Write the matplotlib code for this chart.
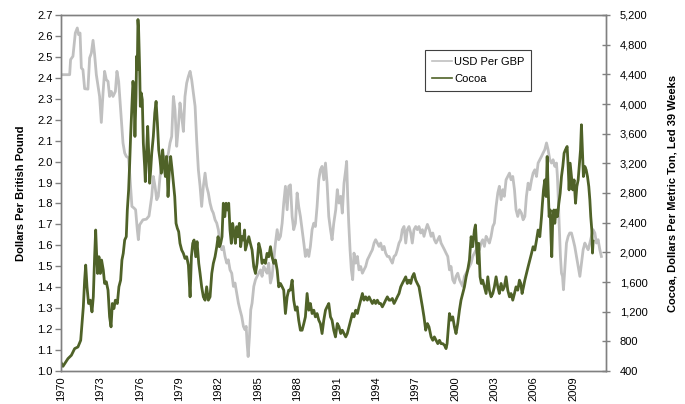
import matplotlib
matplotlib.use("Agg")
import matplotlib.pyplot as plt
from matplotlib.ticker import FuncFormatter, MultipleLocator

plt.rcParams['font.family'] = ['Liberation Sans', 'DejaVu Sans']

# USD per GBP
gbp_years = [1970.02, 1970.66, 1970.73, 1970.91, 1971.09, 1971.24, 1971.34, 1971.45, 1971.55, 1971.67,
             1971.80, 1972.05, 1972.18, 1972.31, 1972.44, 1972.56, 1972.69, 1972.94, 1973.07, 1973.20,
             1973.32, 1973.45, 1973.58, 1973.70, 1973.83, 1973.96, 1974.14, 1974.26, 1974.39, 1974.47,
             1974.59, 1974.72, 1974.85, 1974.97, 1975.15, 1975.40, 1975.56, 1975.68, 1975.81, 1975.89,
             1975.99, 1976.24, 1976.50, 1976.70,
             1976.91, 1977.03, 1977.16, 1977.29, 1977.41, 1977.54, 1977.67, 1977.80, 1977.92, 1978.05,
             1978.18, 1978.30, 1978.43, 1978.56, 1978.68, 1978.81, 1978.94, 1979.06, 1979.19, 1979.32,
             1979.44, 1979.57, 1979.70, 1979.83, 1979.95, 1980.08, 1980.21, 1980.33, 1980.46, 1980.59,
             1980.71, 1980.84, 1980.97, 1981.09, 1981.22, 1981.35, 1981.48, 1981.60, 1981.73, 1981.86,
             1981.98, 1982.11, 1982.24, 1982.36, 1982.49, 1982.62, 1982.74, 1982.87, 1983.00, 1983.13,
             1983.25, 1983.38, 1983.51, 1983.63, 1983.76, 1983.89, 1984.01,
             1984.10, 1984.17, 1984.25, 1984.35, 1984.45, 1984.55, 1984.68, 1984.81, 1984.93, 1985.06,
             1985.19, 1985.31, 1985.44, 1985.57, 1985.69, 1985.82, 1985.95, 1986.07, 1986.20, 1986.33,
             1986.46, 1986.58, 1986.71, 1986.84, 1986.96, 1987.09, 1987.22, 1987.34, 1987.47, 1987.60,
             1987.72, 1987.85, 1987.98, 1988.10, 1988.23, 1988.36, 1988.49, 1988.61, 1988.74, 1988.87,
             1988.99, 1989.12, 1989.25, 1989.37, 1989.50, 1989.63, 1989.75, 1989.88, 1990.01, 1990.14,
             1990.26, 1990.39, 1990.52, 1990.64, 1990.77,
             1990.92, 1991.04, 1991.17, 1991.30, 1991.42, 1991.55, 1991.68, 1991.75, 1991.83, 1991.91,
             1992.01, 1992.11, 1992.21, 1992.31, 1992.44, 1992.57, 1992.69, 1992.82, 1992.95, 1993.07,
             1993.20, 1993.33, 1993.46, 1993.58, 1993.71, 1993.84, 1993.96, 1994.09, 1994.22, 1994.34,
             1994.47, 1994.60, 1994.72, 1994.85, 1994.98, 1995.10, 1995.23, 1995.36, 1995.49, 1995.61,
             1995.74, 1995.87, 1995.99, 1996.12, 1996.25, 1996.37, 1996.50, 1996.63, 1996.75, 1996.88,
             1997.01, 1997.13, 1997.26, 1997.39, 1997.52, 1997.64, 1997.77, 1997.90,
             1998.05, 1998.18, 1998.31, 1998.43, 1998.56, 1998.69, 1998.82, 1998.94, 1999.07, 1999.20,
             1999.32, 1999.45, 1999.58, 1999.70, 1999.83, 1999.96, 2000.08, 2000.21, 2000.34, 2000.46,
             2000.59, 2000.72, 2000.85, 2000.97, 2001.10, 2001.23, 2001.35, 2001.48, 2001.61, 2001.73,
             2001.86, 2001.99, 2002.11, 2002.24, 2002.37, 2002.50, 2002.62, 2002.75, 2002.88, 2003.00,
             2003.13, 2003.26, 2003.38, 2003.51, 2003.64, 2003.76, 2003.89, 2004.02, 2004.15, 2004.27,
             2004.40, 2004.53, 2004.65, 2004.78, 2004.91,
             2005.06, 2005.19, 2005.32, 2005.44, 2005.57, 2005.70, 2005.83, 2005.95, 2006.08, 2006.21,
             2006.33, 2006.46, 2006.59, 2006.71, 2006.84, 2006.97, 2007.09, 2007.22, 2007.35, 2007.47,
             2007.60, 2007.73, 2007.80, 2007.86, 2007.93, 2008.03, 2008.11, 2008.19, 2008.26, 2008.36,
             2008.49, 2008.62, 2008.74, 2008.87, 2009.00, 2009.12, 2009.25, 2009.38, 2009.51, 2009.63,
             2009.76, 2009.89, 2010.01, 2010.14, 2010.27, 2010.39, 2010.52, 2010.65, 2010.77, 2010.90,
             2011.03, 2011.15]
gbp = [2.415, 2.415, 2.487, 2.503, 2.614, 2.638, 2.606, 2.614, 2.447, 2.439,
       2.348, 2.346, 2.495, 2.518, 2.579, 2.511, 2.415, 2.311, 2.187, 2.327,
       2.431, 2.391, 2.383, 2.311, 2.335, 2.311, 2.335, 2.431, 2.383, 2.311,
       2.200, 2.089, 2.041, 2.025, 2.017, 1.786, 1.778, 1.770, 1.675, 1.627,
       1.698, 1.722, 1.725, 1.740,
       1.834, 1.929, 1.882, 1.818, 1.834, 1.929, 1.993, 1.977, 2.025, 2.009,
       2.041, 2.089, 2.120, 2.311, 2.248, 2.073, 2.168, 2.280, 2.216, 2.144,
       2.311, 2.375, 2.407, 2.431, 2.391, 2.327, 2.264, 2.104, 1.961, 1.882,
       1.786, 1.882, 1.945, 1.882, 1.850, 1.802, 1.770, 1.754, 1.722, 1.706,
       1.675, 1.611, 1.579, 1.595, 1.547, 1.515, 1.531, 1.483, 1.467, 1.404,
       1.420, 1.372, 1.324, 1.292, 1.261, 1.213, 1.197,
       1.213, 1.133, 1.069, 1.165, 1.292, 1.324, 1.404, 1.436, 1.452, 1.467,
       1.483, 1.452, 1.499, 1.483, 1.467, 1.515, 1.420, 1.452, 1.531, 1.611,
       1.675, 1.627, 1.643, 1.706, 1.802, 1.882, 1.770, 1.882, 1.889, 1.738,
       1.675, 1.706, 1.850, 1.786, 1.738, 1.675, 1.611, 1.547, 1.579, 1.547,
       1.595, 1.675, 1.706, 1.690, 1.786, 1.913, 1.961, 1.977, 1.913, 1.993,
       1.897, 1.738, 1.675, 1.627, 1.706,
       1.770, 1.866, 1.802, 1.834, 1.754, 1.897, 1.961, 2.001, 1.834, 1.706,
       1.579, 1.483, 1.436, 1.563, 1.515, 1.547, 1.483, 1.499, 1.467, 1.483,
       1.499, 1.531, 1.547, 1.563, 1.579, 1.611, 1.627, 1.611, 1.595, 1.611,
       1.579, 1.595, 1.563, 1.547, 1.547, 1.531, 1.515, 1.547, 1.555, 1.579,
       1.611, 1.627, 1.675, 1.690, 1.611, 1.675, 1.690, 1.659, 1.611, 1.675,
       1.690, 1.675, 1.690, 1.659, 1.675, 1.643, 1.675, 1.700,
       1.675, 1.643, 1.659, 1.627, 1.611, 1.627, 1.643, 1.611, 1.595, 1.579,
       1.563, 1.547, 1.483, 1.499, 1.436, 1.420, 1.452, 1.467, 1.436, 1.420,
       1.404, 1.452, 1.467, 1.483, 1.499, 1.515, 1.547, 1.563, 1.579, 1.611,
       1.579, 1.611, 1.627, 1.595, 1.643, 1.627, 1.611, 1.643, 1.690, 1.706,
       1.786, 1.850, 1.882, 1.818, 1.866, 1.834, 1.913, 1.929, 1.945, 1.913,
       1.929, 1.866, 1.770, 1.738, 1.770,
       1.754, 1.722, 1.738, 1.834, 1.897, 1.866, 1.913, 1.945, 1.961, 1.929,
       1.993, 2.009, 2.025, 2.041, 2.057, 2.089, 2.057, 2.009, 1.993, 2.009,
       1.977, 1.993, 1.929, 1.834, 1.706, 1.547, 1.467, 1.452, 1.388, 1.483,
       1.611, 1.643, 1.659, 1.659, 1.627, 1.595, 1.547, 1.499, 1.452, 1.515,
       1.579, 1.611, 1.595, 1.579, 1.611, 1.643, 1.675, 1.659, 1.611, 1.627,
       1.579, 1.547]

# Cocoa, dollars per metric ton, led 39 weeks
cocoa_years = [1970.02, 1970.15, 1970.28, 1970.53, 1970.79, 1971.04, 1971.29, 1971.50, 1971.60, 1971.70,
               1971.80, 1971.88, 1971.98, 1972.10, 1972.23, 1972.36, 1972.46, 1972.56, 1972.64, 1972.71,
               1972.79, 1972.89, 1972.99, 1973.09, 1973.22, 1973.32, 1973.45, 1973.58, 1973.70, 1973.81,
               1973.91, 1974.03, 1974.14, 1974.29, 1974.41, 1974.54, 1974.64, 1974.74, 1974.85, 1974.97,
               1975.05, 1975.15, 1975.23, 1975.30, 1975.40, 1975.48, 1975.56, 1975.63, 1975.71, 1975.76,
               1975.81, 1975.86, 1975.91, 1975.99, 1976.04, 1976.11, 1976.19, 1976.27, 1976.37, 1976.42,
               1976.52, 1976.60, 1976.67, 1976.75, 1976.83,
               1976.91, 1977.03, 1977.14, 1977.24, 1977.34, 1977.44, 1977.54, 1977.64, 1977.74, 1977.85,
               1977.95, 1978.05, 1978.15, 1978.25, 1978.35, 1978.46, 1978.56, 1978.66, 1978.76, 1978.86,
               1978.96, 1979.06, 1979.19, 1979.32, 1979.44, 1979.57, 1979.70, 1979.83, 1979.93, 1980.03,
               1980.13, 1980.26, 1980.36, 1980.49, 1980.59, 1980.71, 1980.84, 1980.97, 1981.09, 1981.22,
               1981.35, 1981.48, 1981.60, 1981.73, 1981.86, 1981.96, 1982.06, 1982.16, 1982.26, 1982.36,
               1982.47, 1982.57, 1982.67, 1982.77, 1982.87, 1982.97, 1983.07, 1983.18, 1983.28, 1983.38,
               1983.48, 1983.58, 1983.68, 1983.78, 1983.89,
               1983.98, 1984.04, 1984.17, 1984.30, 1984.42, 1984.55, 1984.68, 1984.81, 1984.93, 1985.06,
               1985.19, 1985.31, 1985.44, 1985.57, 1985.69, 1985.82, 1985.95, 1986.07, 1986.20, 1986.33,
               1986.46, 1986.58, 1986.71, 1986.84, 1986.96, 1987.09, 1987.22, 1987.34, 1987.47, 1987.60,
               1987.72, 1987.85, 1987.98, 1988.10, 1988.23, 1988.36, 1988.49, 1988.61, 1988.74, 1988.87,
               1988.99, 1989.12, 1989.25, 1989.37, 1989.50, 1989.63, 1989.75, 1989.88, 1990.01, 1990.14,
               1990.26, 1990.39, 1990.52, 1990.64, 1990.77, 1990.90,
               1991.04, 1991.17, 1991.30, 1991.42, 1991.55, 1991.68, 1991.80, 1991.93, 1992.06, 1992.19,
               1992.31, 1992.44, 1992.57, 1992.69, 1992.82, 1992.95, 1993.07, 1993.20, 1993.33, 1993.46,
               1993.58, 1993.71, 1993.84, 1993.96, 1994.09, 1994.22, 1994.34, 1994.47, 1994.60, 1994.72,
               1994.85, 1994.98, 1995.10, 1995.23, 1995.36, 1995.49, 1995.61, 1995.74, 1995.87, 1995.99,
               1996.12, 1996.25, 1996.37, 1996.50, 1996.63, 1996.75, 1996.88, 1997.01, 1997.13, 1997.26,
               1997.39, 1997.52, 1997.64, 1997.77, 1997.90,
               1998.02, 1998.18, 1998.31, 1998.43, 1998.56, 1998.69, 1998.82, 1998.94, 1999.07, 1999.20,
               1999.32, 1999.40, 1999.50, 1999.58, 1999.70, 1999.83, 1999.96, 2000.08, 2000.21, 2000.34,
               2000.46, 2000.59, 2000.72, 2000.85, 2000.97, 2001.10, 2001.23, 2001.35, 2001.48, 2001.56,
               2001.66, 2001.73, 2001.81, 2001.91, 2002.01, 2002.11, 2002.24, 2002.37, 2002.50, 2002.62,
               2002.75, 2002.88, 2003.00, 2003.13, 2003.26, 2003.38, 2003.51, 2003.64, 2003.76, 2003.89,
               2004.02, 2004.15, 2004.27, 2004.40, 2004.53, 2004.65, 2004.78, 2004.91,
               2005.01, 2005.11, 2005.22, 2005.32, 2005.44, 2005.57, 2005.70, 2005.83, 2005.95, 2006.08,
               2006.21, 2006.33, 2006.46, 2006.59, 2006.66, 2006.74, 2006.84, 2006.94, 2007.02, 2007.09,
               2007.17, 2007.25, 2007.32, 2007.37, 2007.45, 2007.53, 2007.60, 2007.70, 2007.80, 2007.91,
               2008.01, 2008.11, 2008.21, 2008.31, 2008.41, 2008.54, 2008.62, 2008.69, 2008.77, 2008.87,
               2008.97, 2009.07, 2009.18, 2009.28, 2009.38, 2009.48, 2009.56, 2009.63, 2009.71, 2009.78,
               2009.89, 2009.99, 2010.09, 2010.19, 2010.27, 2010.34, 2010.42, 2010.47, 2010.52]
cocoa = [508, 463, 499, 567, 612, 702, 724, 814, 1040, 1265,
         1625, 1828, 1535, 1310, 1355, 1197, 1400, 1941, 2301, 1986,
         1715, 1941, 1715, 1896, 1761, 1580, 1603, 1490, 1130, 995,
         1310, 1242, 1355, 1310, 1535, 1625, 1896, 1986, 2166, 2211,
         2571, 2842, 3202, 3563, 3968, 4306, 4148, 3563, 4103, 4644,
         4463, 5139, 5004, 4463, 3968, 4148, 4058, 3472, 3157, 2954,
         3382, 3698, 3382, 2932, 3112,
         3337, 3563, 3878, 4035, 3743, 3382, 3247, 3067, 3382, 3157,
         3022, 3292, 2752, 3112, 3292, 3112, 2932, 2752, 2391, 2324,
         2279, 2121, 2031, 1986, 1918, 1941, 1828, 1400, 1941, 2121,
         2166, 1941, 2144, 1851, 1715, 1535, 1400, 1355, 1535, 1355,
         1400, 1715, 1851, 1941, 2076, 2211, 2076, 2121, 2211, 2662,
         2481, 2662, 2571, 2662, 2301, 2121, 2391, 2256, 2121, 2346,
         2211, 2391, 2076, 2211, 2166,
         2301, 2031, 2121, 2211, 2121, 2031, 1806, 1715, 1851, 2121,
         2031, 1851, 1896, 1851, 1986, 1941, 2076, 1941, 1851, 1896,
         1761, 1535, 1580, 1535, 1490, 1175, 1400, 1490, 1490, 1625,
         1355, 1220, 1265, 1085, 950, 950, 1040, 1130, 1445, 1220,
         1310, 1175, 1220, 1130, 1175, 1085, 1040, 905, 1085, 1220,
         1265, 1310, 1130, 1085, 950, 860,
         1040, 995, 905, 950, 905, 860, 905, 995, 1085, 1175,
         1130, 1220, 1175, 1265, 1355, 1445, 1355, 1400, 1355, 1400,
         1355, 1310, 1355, 1310, 1355, 1310, 1310, 1265, 1310, 1355,
         1400, 1355, 1355, 1378, 1310, 1355, 1400, 1445, 1535, 1580,
         1625, 1670, 1580, 1625, 1580, 1670, 1715, 1625, 1580, 1535,
         1400, 1265, 1130, 950, 1040,
         995, 860, 814, 860, 814, 769, 814, 769, 769, 747,
         702, 769, 995, 1175, 1085, 1130, 995, 905, 1040, 1220,
         1355, 1445, 1535, 1670, 1761, 1896, 2211, 2076, 2301, 2369,
         2031, 1851, 2121, 1670, 1580, 1625, 1535, 1445, 1670, 1490,
         1400, 1445, 1535, 1670, 1535, 1445, 1580, 1490, 1535, 1670,
         1490, 1400, 1445, 1355, 1445, 1535, 1490, 1625,
         1580, 1445, 1535, 1625, 1715, 1806, 1896, 1986, 2076, 2031,
         2166, 2301, 2211, 2481, 2662, 2842, 2977, 2752, 3292, 2887,
         2481, 2571, 2166, 1941, 2481, 2571, 2391, 2571, 2481, 2662,
         2797, 3022, 3157, 3337, 3382, 3427, 3157, 2842, 3202, 3022,
         2842, 2977, 2662, 2887, 2977, 3202, 3382, 3720, 3337, 3022,
         3157, 3112, 3022, 2887, 2707, 2481, 2301, 1990, 2150]

year_ticks = list(range(1970, 2010, 3))
gbp_color = '#C0C0C0'
cocoa_color = '#4F6228'
spine_color = '#808080'

fig = plt.figure(figsize=(6.85, 4.04), dpi=100)
ax = fig.add_axes([61/685, 1 - 371/404, 545/685, 356/404])
ax2 = ax.twinx()

l1, = ax.plot(gbp_years, gbp, color=gbp_color, lw=2.0, label='USD Per GBP')
l2, = ax2.plot(cocoa_years, cocoa, color=cocoa_color, lw=2.0, label='Cocoa')

ax.set_xlim(1970, 2011.5)
ax.set_ylim(1.0, 2.7)
ax2.set_ylim(400, 5200)
ax.yaxis.set_major_locator(MultipleLocator(0.1))
ax.yaxis.set_major_formatter(FuncFormatter(lambda v, p: '%.1f' % v))
ax2.yaxis.set_major_locator(MultipleLocator(400))
ax2.yaxis.set_major_formatter(FuncFormatter(lambda v, p: '{:,.0f}'.format(v)))
ax.set_xticks(year_ticks)
ax.set_xticklabels([str(y) for y in year_ticks], rotation=90)

for a in (ax, ax2):
    for s in a.spines.values():
        s.set_color(spine_color)
        s.set_linewidth(1.0)

ax.tick_params(axis='x', length=0, pad=4, labelsize=8)
ax.tick_params(axis='y', direction='out', length=4, width=1, color=spine_color, labelsize=8, pad=2)
ax2.tick_params(axis='y', direction='inout', length=6, width=1, color=spine_color, labelsize=8, pad=7)

ax.set_ylabel('Dollars Per British Pound', fontsize=8, fontweight='bold', labelpad=8)
ax2.set_ylabel('Cocoa, Dollars Per Metric Ton, Led 39 Weeks', fontsize=8, fontweight='bold', labelpad=14)

leg = ax2.legend(handles=[l1, l2], loc='upper left', bbox_to_anchor=(0.668, 0.902),
                 fontsize=8, fancybox=False, framealpha=1, edgecolor='#404040',
                 handlelength=1.8, handletextpad=0.2, labelspacing=0.7, borderpad=0.6,
                 borderaxespad=0)
leg.get_frame().set_linewidth(0.8)
for h in leg.get_lines():
    h.set_linewidth(1.2)

fig.savefig('out.png', dpi=100)
